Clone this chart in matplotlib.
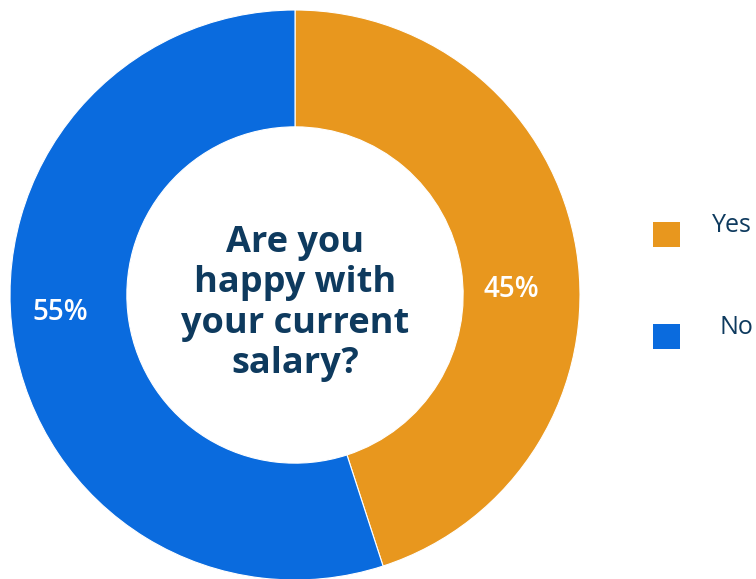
import matplotlib.pyplot as plt
from matplotlib.patches import Rectangle

# Survey answers
answers = ["Yes", "No"]
shares = [45, 55]
colors = ["#E8971E", "#0A6BDE"]

plt.rcParams['font.family'] = ['Open Sans', 'DejaVu Sans']
navy = "#0E3A5E"

fig = plt.figure(figsize=(7.56, 5.79), dpi=100)
W, H = 756, 579
# donut centred at (295, 295) px from top-left, radius 285 px
ax = fig.add_axes([10 / W, (579 - 295 - 285) / H, 570 / W, 570 / H])

wedges, _ = ax.pie(shares, colors=colors, startangle=90, counterclock=False,
                   radius=1.0, wedgeprops=dict(width=0.41, edgecolor='white', linewidth=0.8))
ax.set_xlim(-1, 1)
ax.set_ylim(-1, 1)
ax.set_aspect('equal')
ax.axis('off')

# percentage labels inside the ring
label_pos = [(0.759, 0.02), (-0.825, -0.06)]
for val, (x, y) in zip(shares, label_pos):
    ax.text(x, y, f"{val}%", ha='center', va='center', color='white',
            fontsize=20, fontweight='semibold')

ax.text(0.0, -0.03, "Are you\nhappy with\nyour current\nsalary?", ha='center', va='center',
        color=navy, fontsize=26, fontweight='bold', linespacing=1.17)

# legend drawn as squares plus labels
legend_items = [(answers[0], colors[0], 234, 712), (answers[1], colors[1], 336, 720)]
for name, col, yc, xt in legend_items:
    fig.patches.append(Rectangle(((666 - 13.5) / W, (H - yc - 12.5) / H), 27 / W, 25 / H,
                                 transform=fig.transFigure, facecolor=col, edgecolor='none'))
    fig.text(xt / W, (H - yc + 9) / H, name, ha='left', va='center', color=navy, fontsize=18)

fig.savefig("out.png", dpi=100)
